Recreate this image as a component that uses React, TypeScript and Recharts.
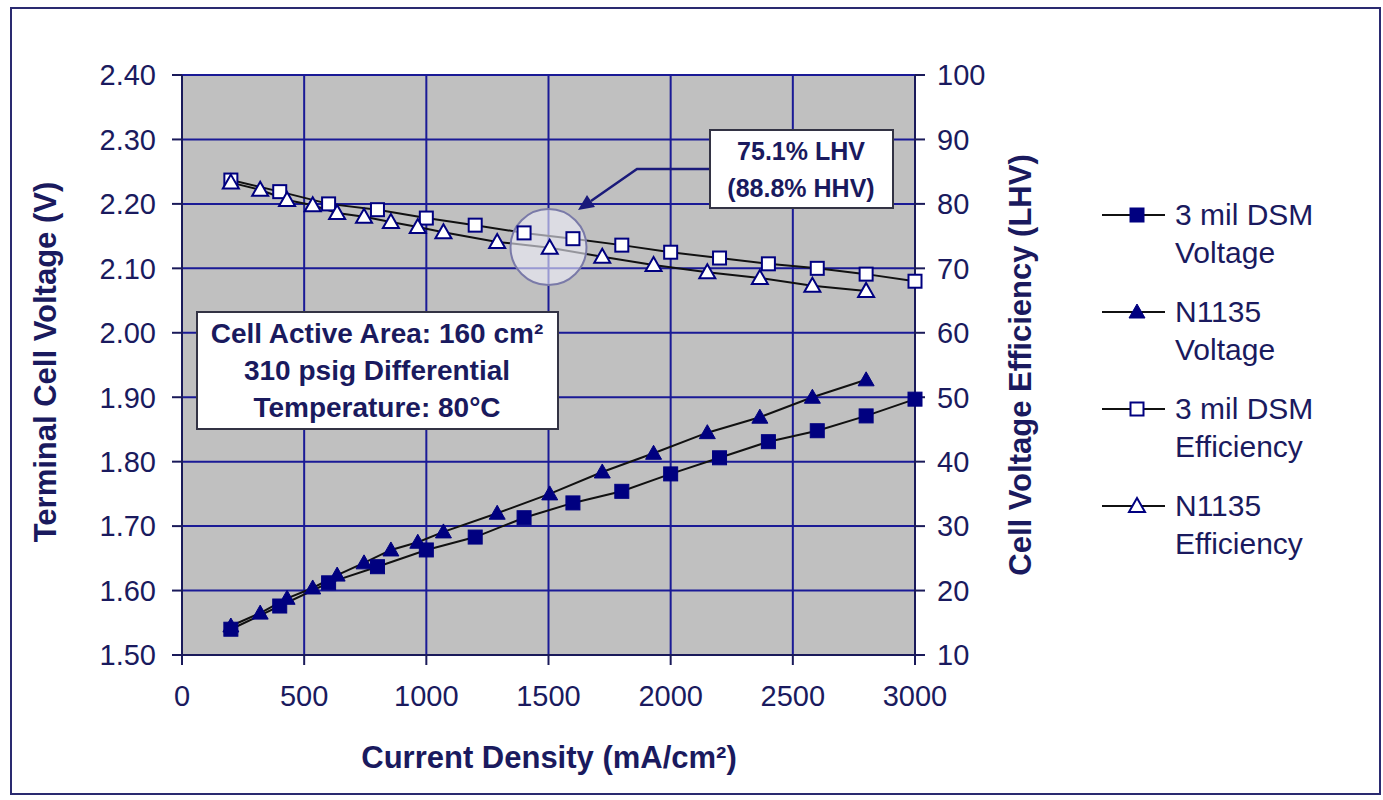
import { ComposedChart, Line, XAxis, YAxis, CartesianGrid, Legend, ReferenceDot } from "recharts"

// 3 mil DSM membrane
const currentDsm = [200, 400, 600, 800, 1000, 1200, 1400, 1600, 1800, 2000, 2200, 2400, 2600, 2800, 3000]
const voltageDsm = [1.540, 1.576, 1.612, 1.637, 1.663, 1.683, 1.713, 1.736, 1.754, 1.781, 1.806, 1.831, 1.848, 1.871, 1.897]
const efficiencyDsm = [83.7, 81.9, 80.0, 79.1, 77.8, 76.7, 75.5, 74.6, 73.6, 72.5, 71.6, 70.7, 70.0, 69.1, 68.0]

// N1135 membrane
const currentN1135 = [200, 320, 430, 535, 635, 745, 855, 965, 1070, 1290, 1505, 1720, 1930, 2150, 2365, 2580, 2800]
const voltageN1135 = [1.545, 1.565, 1.588, 1.604, 1.624, 1.643, 1.663, 1.675, 1.691, 1.720, 1.750, 1.784, 1.813, 1.845, 1.869, 1.900, 1.927]
const efficiencyN1135 = [83.3, 82.2, 80.6, 79.8, 78.6, 78.0, 77.2, 76.4, 75.6, 74.1, 73.2, 71.8, 70.5, 69.4, 68.5, 67.3, 66.5]

const currentTicks = [0, 500, 1000, 1500, 2000, 2500, 3000]
const voltageTicks = [1.5, 1.6, 1.7, 1.8, 1.9, 2.0, 2.1, 2.2, 2.3, 2.4]
const efficiencyTicks = [10, 20, 30, 40, 50, 60, 70, 80, 90, 100]

const legendLabels = [
  ["3 mil DSM", "Voltage"],
  ["N1135", "Voltage"],
  ["3 mil DSM", "Efficiency"],
  ["N1135", "Efficiency"],
]

const highlightCurrent = 1500
const highlightEfficiency = 73.3

const font = "Arial, 'Liberation Sans', sans-serif"
const navy = "#000080"
const textColor = "#1a1a5e"
const gridColor = "#1a1a96"

const dsmRows = currentDsm.map((x, i) => ({ x, v: voltageDsm[i], e: efficiencyDsm[i] }))
const n1135Rows = currentN1135.map((x, i) => ({ x, v: voltageN1135[i], e: efficiencyN1135[i] }))

type Kind = "square" | "triangle"

const markerShape = (kind: Kind, filled: boolean, cx: number, cy: number, key?: any) => {
  const fill = filled ? navy : "#ffffff"
  if (kind === "square") {
    const s = filled ? 14 : 13
    return <rect key={key} x={cx - s / 2} y={cy - s / 2} width={s} height={s} fill={fill} stroke={navy} strokeWidth={filled ? 1 : 2} />
  }
  return (
    <path
      key={key}
      d={`M${cx},${cy - 8} L${cx + 8},${cy + 6} L${cx - 8},${cy + 6} Z`}
      fill={fill}
      stroke={navy}
      strokeWidth={filled ? 1 : 2}
    />
  )
}

const dot = (kind: Kind, filled: boolean) => (props: any) => {
  if (props.cx == null || props.cy == null) return <g key={props.index} />
  return markerShape(kind, filled, props.cx, props.cy, props.index)
}

const markers: [Kind, boolean][] = [
  ["square", true],
  ["triangle", true],
  ["square", false],
  ["triangle", false],
]

const renderLegend = () => (
  <div style={{ fontFamily: font, fontSize: 30, color: textColor, lineHeight: "38px" }}>
    {legendLabels.map((lab, i) => (
      <div key={i} style={{ display: "flex", height: 97 }}>
        <svg width={73} height={38} style={{ flex: "none" }}>
          <line x1={0} y1={19} x2={63} y2={19} stroke="#111" strokeWidth={2} />
          {markerShape(markers[i][0], markers[i][1], 35, 19)}
        </svg>
        <div>
          {lab[0]}
          <br />
          {lab[1]}
        </div>
      </div>
    ))}
  </div>
)

const tickStyle = { fontFamily: font, fontSize: 29, fill: textColor }
const titleStyle = { fontFamily: font, fontSize: 31, fontWeight: "bold" as const, fill: textColor }
const boxText = { fontFamily: font, fontWeight: "bold" as const, fill: textColor }

export default function App() {
  return (
    <div style={{ position: "absolute", left: 0, top: 0, width: 1383, height: 800, background: "#ffffff" }}>
      <ComposedChart width={1383} height={800} margin={{ top: 75, right: 368, bottom: 85, left: 82 }}>
        <CartesianGrid
          yAxisId="left"
          stroke={gridColor}
          strokeWidth={2}
          fill="#c0c0c0"
          fillOpacity={1}
          horizontalValues={voltageTicks}
          verticalValues={currentTicks}
        />
        <XAxis
          dataKey="x"
          type="number"
          domain={[0, 3000]}
          ticks={currentTicks}
          tick={tickStyle}
          tickSize={10}
          tickMargin={20}
          height={60}
          stroke="#1a1a5a"
          strokeWidth={2}
        />
        <YAxis
          yAxisId="left"
          type="number"
          domain={[1.5, 2.4]}
          ticks={voltageTicks}
          tickFormatter={(v: number) => v.toFixed(2)}
          tick={tickStyle}
          tickSize={10}
          tickMargin={16}
          width={100}
          stroke="#1a1a5a"
          strokeWidth={2}
        />
        <YAxis
          yAxisId="right"
          orientation="right"
          type="number"
          domain={[10, 100]}
          ticks={efficiencyTicks}
          tick={tickStyle}
          tickSize={10}
          tickMargin={12}
          width={100}
          stroke="#1a1a5a"
          strokeWidth={2}
        />
        <Line
          data={dsmRows}
          dataKey="v"
          name="3 mil DSM Voltage"
          yAxisId="left"
          stroke="#111"
          strokeWidth={2}
          dot={dot("square", true)}
          activeDot={false}
          isAnimationActive={false}
        />
        <Line
          data={n1135Rows}
          dataKey="v"
          name="N1135 Voltage"
          yAxisId="left"
          stroke="#111"
          strokeWidth={2}
          dot={dot("triangle", true)}
          activeDot={false}
          isAnimationActive={false}
        />
        <Line
          data={dsmRows}
          dataKey="e"
          name="3 mil DSM Efficiency"
          yAxisId="right"
          stroke="#111"
          strokeWidth={2}
          dot={dot("square", false)}
          activeDot={false}
          isAnimationActive={false}
        />
        <Line
          data={n1135Rows}
          dataKey="e"
          name="N1135 Efficiency"
          yAxisId="right"
          stroke="#111"
          strokeWidth={2}
          dot={dot("triangle", false)}
          activeDot={false}
          isAnimationActive={false}
        />
        <ReferenceDot
          x={highlightCurrent}
          y={highlightEfficiency}
          yAxisId="right"
          r={38}
          fill="#eeeefa"
          fillOpacity={0.6}
          stroke="#7a7aa8"
          strokeWidth={2}
        />
        <Legend
          layout="vertical"
          align="center"
          verticalAlign="middle"
          content={renderLegend}
          wrapperStyle={{ left: 1102, top: 196, width: 270, height: 400 }}
        />
      </ComposedChart>

      <svg width={1383} height={800} style={{ position: "absolute", left: 0, top: 0, pointerEvents: "none" }}>
        <rect x={11} y={8} width={1369} height={786} fill="none" stroke="#2a2a70" strokeWidth={2} />
        <text transform="translate(45,362) rotate(-90)" textAnchor="middle" dominantBaseline="central" {...titleStyle}>
          Terminal Cell Voltage (V)
        </text>
        <text transform="translate(1020,365) rotate(-90)" textAnchor="middle" dominantBaseline="central" {...titleStyle}>
          Cell Voltage Efficiency (LHV)
        </text>
        <text x={549} y={757} textAnchor="middle" dominantBaseline="central" {...titleStyle}>
          Current Density (mA/cm²)
        </text>

        <polyline points="710,169 637,169 591,201" fill="none" stroke="#1a1a7a" strokeWidth={2.5} />
        <polygon points="578,210 595,207 587,195" fill="#1a1a7a" />
        <rect x={710} y={130} width={183} height={78} fill="#ffffff" stroke="#333344" strokeWidth={2} />
        <text x={801} y={151} textAnchor="middle" dominantBaseline="central" fontSize={25} {...boxText}>
          75.1% LHV
        </text>
        <text x={801} y={188} textAnchor="middle" dominantBaseline="central" fontSize={25} {...boxText}>
          (88.8% HHV)
        </text>

        <rect x={197} y={312} width={361} height={117} fill="#ffffff" stroke="#333344" strokeWidth={2} />
        <text x={377} y={333} textAnchor="middle" dominantBaseline="central" fontSize={28} {...boxText}>
          Cell Active Area: 160 cm²
        </text>
        <text x={377} y={370} textAnchor="middle" dominantBaseline="central" fontSize={28} {...boxText}>
          310 psig Differential
        </text>
        <text x={377} y={407} textAnchor="middle" dominantBaseline="central" fontSize={28} {...boxText}>
          Temperature: 80°C
        </text>
      </svg>
    </div>
  )
}
